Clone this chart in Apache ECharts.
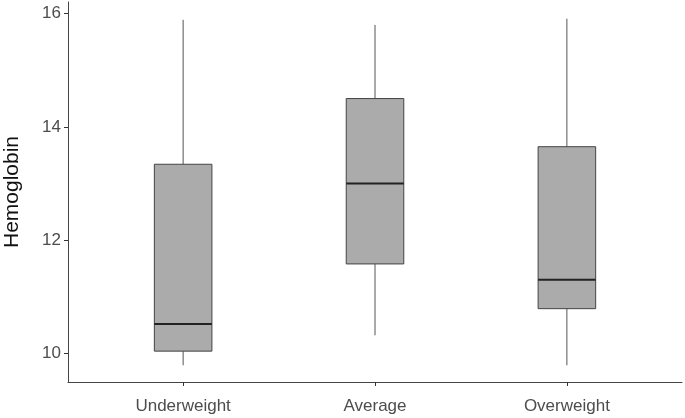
<!DOCTYPE html>
<html>
<head>
<meta charset="utf-8">
<script src="https://cdn.jsdelivr.net/npm/echarts@6/dist/echarts.min.js"></script>
<style>html,body{margin:0;padding:0;background:#fff;}#c{width:685px;height:418px;}</style>
</head>
<body>
<div id="c"></div>
<script>
var categories = ['Underweight', 'Average', 'Overweight'];
var whiskerLow  = [9.79, 10.32, 9.79];
var q1          = [10.04, 11.58, 10.79];
var median      = [10.52, 13.00, 11.30];
var q3          = [13.34, 14.50, 13.65];
var whiskerHigh = [15.89, 15.80, 15.91];
var yTicks = [10, 12, 14, 16];

var data = categories.map(function (c, i) {
  return [i, whiskerLow[i], q1[i], median[i], q3[i], whiskerHigh[i]];
});

var chart = echarts.init(document.getElementById('c'), null, {renderer: 'canvas'});
chart.setOption({
  animation: false,
  grid: {left: 68, right: 3, top: 2, bottom: 36, containLabel: false, outerBoundsMode: 'none'},
  xAxis: {
    type: 'value', min: -0.6, max: 2.6,
    splitLine: {show: false},
    axisLine: {show: true, onZero: false, lineStyle: {color: '#444', width: 1}},
    axisTick: {show: true, length: 4, lineStyle: {color: '#333'}, customValues: [0, 1, 2]},
    axisLabel: {
      customValues: [0, 1, 2], color: '#4d4d4d', fontSize: 17, margin: 16,
      fontFamily: 'Liberation Sans, Arial, sans-serif',
      formatter: function (v) { return categories[Math.round(v)]; }
    }
  },
  yAxis: {
    type: 'value', min: 9.495, max: 16.205,
    name: 'Hemoglobin', nameLocation: 'middle', nameGap: 45,
    nameTextStyle: {color: '#111', fontSize: 21, fontFamily: 'Liberation Sans, Arial, sans-serif'},
    splitLine: {show: false},
    axisLine: {show: true, onZero: false, lineStyle: {color: '#444', width: 1}},
    axisTick: {show: true, length: 4, lineStyle: {color: '#333'}, customValues: yTicks},
    axisLabel: {customValues: yTicks, color: '#4d4d4d', fontSize: 17, margin: 7,
      fontFamily: 'Liberation Sans, Arial, sans-serif'}
  },
  series: [{
    type: 'custom',
    data: data,
    encode: {x: 0, y: [1, 2, 3, 4, 5]},
    renderItem: function (params, api) {
      var x = api.value(0);
      var pLow = api.coord([x, api.value(1)]);
      var pQ1 = api.coord([x, api.value(2)]);
      var pMed = api.coord([x, api.value(3)]);
      var pQ3 = api.coord([x, api.value(4)]);
      var pHigh = api.coord([x, api.value(5)]);
      var w = api.size([0.3, 0])[0];
      var cx = pMed[0];
      return {
        type: 'group',
        children: [
          {type: 'line', shape: {x1: cx, y1: pHigh[1], x2: cx, y2: pQ3[1]}, style: {stroke: '#555', lineWidth: 1}},
          {type: 'line', shape: {x1: cx, y1: pQ1[1], x2: cx, y2: pLow[1]}, style: {stroke: '#555', lineWidth: 1}},
          {type: 'rect', shape: {x: cx - w / 2, y: pQ3[1], width: w, height: pQ1[1] - pQ3[1]},
            style: {fill: '#ababab', stroke: '#444', lineWidth: 1}},
          {type: 'line', shape: {x1: cx - w / 2, y1: pMed[1], x2: cx + w / 2, y2: pMed[1]}, style: {stroke: '#222', lineWidth: 2}}
        ]
      };
    }
  }]
});
</script>
</body>
</html>
